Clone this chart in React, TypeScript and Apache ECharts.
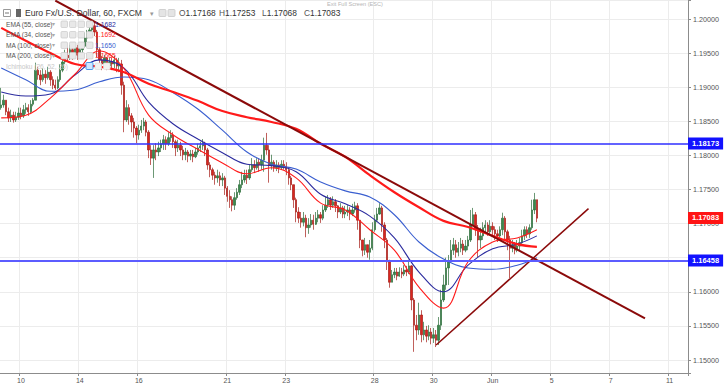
import React, { useEffect, useRef } from "react";
import * as echarts from "echarts";

// ---- Candles: 2-hour slots (open = previous close) ----
const firstOpen = 1.187;
const closes = [
  1.1874, 1.1881, 1.1864, 1.1855, 1.1859, 1.1852, 1.1856, 1.1862, 1.1858, 1.1867,
  1.187, 1.1864, 1.1875, 1.1881, 1.1925, 1.1918, 1.1911, 1.1919, 1.1914, 1.1922,
  1.1911, 1.1903, 1.1899, 1.1911, 1.1925, 1.1937, 1.1947, 1.1943, 1.1955, 1.1949,
  1.1958, 1.1947, 1.1955, 1.196, 1.1972, 1.1978, 1.1984, 1.199, 1.1981, 1.1955,
  1.194, 1.1934, 1.1943, 1.1931, 1.1937, 1.1934, 1.194, 1.1931, 1.1934, 1.1903,
  1.1852, 1.187, 1.1858, 1.1849, 1.184, 1.183, 1.1837, 1.1843, 1.1849, 1.1834,
  1.1808, 1.1796, 1.1808, 1.1805, 1.1811, 1.1817, 1.1823, 1.1817, 1.1826, 1.183,
  1.182, 1.1811, 1.1815, 1.1808, 1.1801, 1.1805, 1.1799, 1.1802, 1.1798, 1.1805,
  1.1811, 1.1814, 1.1818, 1.1808, 1.1786, 1.1779, 1.1771, 1.1767, 1.177, 1.1764,
  1.1767, 1.1752, 1.174, 1.1735, 1.1727, 1.1738, 1.1746, 1.1757, 1.1764, 1.1771,
  1.1767, 1.1779, 1.1786, 1.1782, 1.179, 1.1786, 1.1793, 1.1815, 1.1808, 1.1786,
  1.179, 1.1782, 1.1786, 1.1782, 1.1787, 1.1784, 1.1779, 1.1767, 1.1757, 1.1735,
  1.1717, 1.1708, 1.1702, 1.1708, 1.1694, 1.1698, 1.1705, 1.1699, 1.1708, 1.1713,
  1.1708, 1.172, 1.1727, 1.1735, 1.1727, 1.1732, 1.1726, 1.1717, 1.1723, 1.1714,
  1.1717, 1.172, 1.1714, 1.172, 1.1726, 1.1705, 1.1676, 1.1661, 1.1669, 1.1658,
  1.1664, 1.1691, 1.1705, 1.1714, 1.1723, 1.1698, 1.1676, 1.1644, 1.1614, 1.1625,
  1.1629, 1.1623, 1.1629, 1.1626, 1.1632, 1.1629, 1.1638, 1.1588, 1.1551, 1.1544,
  1.1566, 1.1537, 1.1544, 1.1535, 1.1541, 1.1532, 1.1537, 1.1529, 1.1551, 1.1588,
  1.161, 1.1635, 1.1644, 1.1661, 1.1669, 1.1658, 1.1664, 1.167, 1.1661, 1.1667,
  1.1676, 1.1698, 1.1713, 1.1691, 1.1676, 1.1682, 1.1694, 1.1698, 1.1688, 1.1696,
  1.1691, 1.1685, 1.1682, 1.1691, 1.1708, 1.1688, 1.1676, 1.1664, 1.1669, 1.1661,
  1.1667, 1.1672, 1.1682, 1.1691, 1.1685, 1.1694, 1.172, 1.1735, 1.1708,
];
const highs = [
  1.1899, 1.1889, 1.1881, 1.187, 1.1867, 1.1864, 1.1864, 1.187, 1.187, 1.1874,
  1.1877, 1.1875, 1.1881, 1.1884, 1.1936, 1.193, 1.1925, 1.1928, 1.1925, 1.193,
  1.1925, 1.1916, 1.1911, 1.1916, 1.1934, 1.1946, 1.1955, 1.1958, 1.1962, 1.1959,
  1.1963, 1.1962, 1.1962, 1.1966, 1.198, 1.1984, 1.1993, 1.1997, 1.1996, 1.1984,
  1.1958, 1.1946, 1.1947, 1.1944, 1.1943, 1.1944, 1.1946, 1.1943, 1.1943, 1.194,
  1.1908, 1.1881, 1.1875, 1.1862, 1.1855, 1.1843, 1.1845, 1.1852, 1.1855, 1.1852,
  1.1837, 1.1815, 1.1815, 1.1818, 1.182, 1.1823, 1.183, 1.1828, 1.1834, 1.1837,
  1.1834, 1.1823, 1.1823, 1.182, 1.1814, 1.1811, 1.1808, 1.1808, 1.1808, 1.1811,
  1.1817, 1.182, 1.1824, 1.182, 1.1811, 1.179, 1.1782, 1.1776, 1.1779, 1.1776,
  1.1774, 1.177, 1.1755, 1.1749, 1.174, 1.1746, 1.1752, 1.1764, 1.1776, 1.1779,
  1.1779, 1.1786, 1.1796, 1.1793, 1.1796, 1.1796, 1.1801, 1.1826, 1.1833, 1.1815,
  1.1801, 1.1793, 1.1793, 1.179, 1.1793, 1.1793, 1.179, 1.1782, 1.177, 1.1757,
  1.1738, 1.1724, 1.1717, 1.1717, 1.1713, 1.1708, 1.1714, 1.1713, 1.1717, 1.172,
  1.1717, 1.1727, 1.1739, 1.1742, 1.1739, 1.174, 1.1736, 1.1727, 1.173, 1.1726,
  1.1726, 1.1727, 1.1724, 1.1729, 1.1732, 1.173, 1.1702, 1.1676, 1.1679, 1.1669,
  1.1676, 1.1702, 1.1713, 1.1723, 1.173, 1.1726, 1.1702, 1.1679, 1.1647, 1.1632,
  1.1635, 1.1635, 1.1636, 1.1635, 1.1639, 1.1638, 1.1647, 1.1639, 1.1591, 1.1566,
  1.1584, 1.1573, 1.1556, 1.155, 1.1551, 1.1547, 1.1547, 1.1544, 1.1563, 1.1603,
  1.1625, 1.165, 1.1654, 1.1676, 1.1679, 1.1676, 1.1673, 1.1679, 1.1676, 1.1676,
  1.1682, 1.172, 1.1723, 1.1717, 1.1698, 1.1694, 1.1702, 1.1705, 1.1702, 1.1705,
  1.1702, 1.1696, 1.1691, 1.1696, 1.1716, 1.1711, 1.1691, 1.1682, 1.1676, 1.1673,
  1.1676, 1.1679, 1.1691, 1.1696, 1.1696, 1.1699, 1.1735, 1.1745, 1.1735,
];
const lows = [
  1.1867, 1.187, 1.1859, 1.1849, 1.1849, 1.1848, 1.1849, 1.1852, 1.1853, 1.1855,
  1.1861, 1.1858, 1.1862, 1.1872, 1.1881, 1.1911, 1.1903, 1.1908, 1.1905, 1.1911,
  1.1902, 1.1897, 1.1896, 1.1897, 1.1908, 1.1922, 1.1934, 1.1937, 1.194, 1.194,
  1.1944, 1.194, 1.1943, 1.1947, 1.1958, 1.1966, 1.1974, 1.198, 1.1975, 1.1944,
  1.1931, 1.1925, 1.1931, 1.1925, 1.1928, 1.1925, 1.1928, 1.1922, 1.1922, 1.1889,
  1.1834, 1.1849, 1.1845, 1.1834, 1.1826, 1.1818, 1.1823, 1.1833, 1.1837, 1.1828,
  1.1796, 1.1786, 1.1767, 1.1793, 1.1799, 1.1805, 1.1808, 1.1808, 1.1814, 1.182,
  1.1811, 1.1799, 1.1805, 1.1799, 1.1793, 1.1793, 1.179, 1.1793, 1.179, 1.1796,
  1.1801, 1.1805, 1.1808, 1.1799, 1.1779, 1.1768, 1.1764, 1.1757, 1.176, 1.1755,
  1.1755, 1.1742, 1.1732, 1.1723, 1.1718, 1.172, 1.1735, 1.1742, 1.1752, 1.176,
  1.1758, 1.1764, 1.1776, 1.1774, 1.1779, 1.1776, 1.1779, 1.1776, 1.1801, 1.176,
  1.1779, 1.1776, 1.1777, 1.1774, 1.1779, 1.1779, 1.1771, 1.1757, 1.1749, 1.1723,
  1.1702, 1.1701, 1.1694, 1.1696, 1.168, 1.1685, 1.1694, 1.1691, 1.1698, 1.1702,
  1.1701, 1.1705, 1.1717, 1.1723, 1.172, 1.1723, 1.1717, 1.1708, 1.1714, 1.1708,
  1.1708, 1.1711, 1.1705, 1.1711, 1.1716, 1.1691, 1.1664, 1.1652, 1.1654, 1.165,
  1.1647, 1.1661, 1.1688, 1.1702, 1.1713, 1.1688, 1.1664, 1.1632, 1.1606, 1.1614,
  1.162, 1.1617, 1.1622, 1.162, 1.1623, 1.1623, 1.1626, 1.1573, 1.1512, 1.1529,
  1.1537, 1.1526, 1.1529, 1.1526, 1.1529, 1.1523, 1.1525, 1.1519, 1.1522, 1.1544,
  1.1585, 1.1603, 1.161, 1.1644, 1.1654, 1.165, 1.1652, 1.1658, 1.1654, 1.1658,
  1.1661, 1.1673, 1.1696, 1.1682, 1.1651, 1.1664, 1.1676, 1.1685, 1.1682, 1.1685,
  1.1682, 1.1676, 1.1673, 1.1679, 1.1683, 1.1676, 1.1661, 1.162, 1.1658, 1.1655,
  1.1658, 1.1661, 1.1667, 1.1676, 1.1679, 1.1679, 1.1691, 1.1714, 1.1702,
];

// ---- Moving averages, read at every 10th slot ----
const maSlots = [0, 10, 20, 30, 40, 50, 60, 70, 80, 90, 100, 110, 120, 130, 140, 150, 160, 170, 180, 190, 200, 210, 218];
const ema34 = [1.1855, 1.1859, 1.1884, 1.1919, 1.1953, 1.1927, 1.1859, 1.183, 1.1809, 1.1789, 1.1773, 1.1782, 1.1767, 1.173, 1.172, 1.1691, 1.1661, 1.1607, 1.1576, 1.1644, 1.1673, 1.1679, 1.1691];
const ema55 = [1.1893, 1.1887, 1.189, 1.1918, 1.194, 1.1928, 1.1878, 1.1846, 1.1824, 1.1804, 1.1787, 1.1785, 1.1776, 1.1743, 1.1729, 1.1711, 1.1679, 1.1629, 1.16, 1.1639, 1.1663, 1.167, 1.1682];
const ma100 = [1.1928, 1.1911, 1.1894, 1.1896, 1.1908, 1.1915, 1.1911, 1.1892, 1.1868, 1.1837, 1.1805, 1.1787, 1.178, 1.1761, 1.1748, 1.1739, 1.1713, 1.1673, 1.1648, 1.1635, 1.1633, 1.1639, 1.165];
const ma200 = [1.1987, 1.1968, 1.195, 1.1934, 1.193, 1.1922, 1.1905, 1.1893, 1.188, 1.1865, 1.1856, 1.1849, 1.1839, 1.1817, 1.1798, 1.1771, 1.1746, 1.1724, 1.1704, 1.1695, 1.1682, 1.167, 1.1666];

// ---- Drawings ----
const trendDownSlots = [22, 262];
const trendDownPrices = [1.2027, 1.1561];
const trendUpSlots = [177, 239];
const trendUpPrices = [1.1522, 1.1722];
const levelHigh = 1.18173;
const levelLow = 1.16458;
const lastPrice = 1.17083;

// ---- Axes ----
const totalSlots = 280;
const slotsPerDay = 12;
const firstDaySlot = 8;
const dayLabels = ["10", "14", "16", "21", "23", "28", "30", "Jun", "5", "7", "11"];
const dayPositions = [0, 2, 4, 7, 9, 12, 14, 16, 18, 20, 22];
const yMin = 1.148094;
const yMax = 1.202786;
const yStep = 0.005;
const hiddenTick = 1.165; // fully covered by the 1.16458 tag in the reference

// ---- Header / legend texts ----
const symbolTitle = "Euro Fx/U.S. Dollar, 60, FXCM";
const ohlcNames = ["O", "H", "L", "C"];
const ohlcValues = ["1.17168", "1.17253", "1.17068", "1.17083"];
const studyNames = ["EMA (55, close)", "EMA (34, close)", "MA (100, close)", "MA (200, close)"];
const studyValues = ["1.1682", "1.1692", "1.1650", "1.1665"];
const studyColors = ["#2b2b9e", "#ff1a1a", "#3a5fd0", "#ff1a1a"];

const FONT = "'Liberation Sans', Arial, sans-serif";

export default function App() {
  const ref = useRef<HTMLDivElement>(null);
  useEffect(() => {
    if (!ref.current) return;
    const chart = echarts.init(ref.current, undefined, { renderer: "svg" });

    const candles = closes.map((c, i) => {
      const o = i === 0 ? firstOpen : closes[i - 1];
      const h = Math.max(highs[i], o, c);
      const l = Math.min(lows[i], o, c);
      return [o, c, l, h];
    });
    const cats = Array.from({ length: totalSlots }, (_, i) => String(i));
    const labelSlots = dayPositions.map((d) => firstDaySlot + d * slotsPerDay);
    const labelAt: Record<number, string> = {};
    labelSlots.forEach((s, i) => (labelAt[s] = dayLabels[i]));
    const isLabelSlot = (i: number) => labelAt[i] !== undefined;
    const maLine = (vals: number[]) => maSlots.map((s, i) => [s, vals[i]]);
    const isStep = (v: number) => Math.abs(v / yStep - Math.round(v / yStep)) < 1e-6;

    const tag = (bg: string, v: number) => ({
      show: true,
      position: "end",
      distance: 0,
      formatter: () => v.toFixed(5),
      backgroundColor: bg,
      color: "#fff",
      fontFamily: FONT,
      fontSize: 7.5,
      fontWeight: "bold",
      padding: [2, 4, 2, 4],
    });
    const levelSeries = (value: number, color: string, width: number, tagColor: string) => ({
      type: "line",
      data: [],
      z: 4,
      markLine: {
        symbol: "none",
        silent: true,
        animation: false,
        precision: 5,
        lineStyle: { color, width, type: "solid", opacity: 1 },
        label: tag(tagColor, value),
        data: [{ yAxis: value }],
      },
    });

    const graphics: any[] = [];
    // header
    graphics.push({ type: "rect", shape: { x: 3.5, y: 9.5, width: 7, height: 7 }, style: { fill: "#fff", stroke: "#999", lineWidth: 1 }, z: 100 });
    graphics.push({ type: "line", shape: { x1: 5, y1: 13, x2: 9, y2: 13 }, style: { stroke: "#777", lineWidth: 1 }, z: 100 });
    graphics.push({ type: "rect", shape: { x: 16, y: 9, width: 5, height: 8 }, style: { fill: "#666" }, z: 100 });
    graphics.push({ type: "text", x: 25, y: 13, style: { text: symbolTitle, fill: "#333", font: `8.6px ${FONT}`, verticalAlign: "middle" }, z: 100 });
    graphics.push({ type: "text", x: 150, y: 13, style: { text: "▾", fill: "#999", font: `7px ${FONT}`, verticalAlign: "middle" }, z: 100 });
    [159, 168].forEach((x) => graphics.push({ type: "rect", shape: { x, y: 9.5, width: 7, height: 7, r: 1 }, style: { fill: "#e4e4e4", stroke: "#c8c8c8", lineWidth: 0.8 }, z: 100 }));
    const ohlcX = [179, 219, 262, 304];
    ohlcNames.forEach((n, i) =>
      graphics.push({
        type: "text",
        x: ohlcX[i],
        y: 13,
        style: {
          text: `{n|${n}}{v|${ohlcValues[i]}}`,
          rich: { n: { fill: "#555", font: `8.4px ${FONT}` }, v: { fill: "#333", font: `8.4px ${FONT}` } },
          verticalAlign: "middle",
        },
        z: 100,
      })
    );
    graphics.push({ type: "text", x: 327, y: 4, style: { text: "Exit Full Screen (ESC)", fill: "#b5b5b5", font: `5.6px ${FONT}`, verticalAlign: "middle" }, z: 100 });
    // study rows
    const rowY = [24, 34.5, 45, 55.5];
    studyNames.forEach((name, i) => {
      const y = rowY[i];
      graphics.push({ type: "text", x: 6, y, style: { text: name, fill: "#555", font: `6.6px ${FONT}`, verticalAlign: "middle" }, z: 100 });
      graphics.push({ type: "text", x: 52, y, style: { text: "▾", fill: "#aaa", font: `6px ${FONT}`, verticalAlign: "middle" }, z: 100 });
      [61, 69.5, 78, 86.5].forEach((x) => graphics.push({ type: "rect", shape: { x, y: y - 3, width: 6.5, height: 6.5, r: 1 }, style: { fill: "#e8e8e8", stroke: "#c8c8c8", lineWidth: 0.7 }, z: 100 }));
      graphics.push({ type: "text", x: 95, y, style: { text: studyValues[i], fill: studyColors[i], font: `6.8px ${FONT}`, verticalAlign: "middle" }, z: 100 });
    });
    graphics.push({ type: "text", x: 6, y: 66, style: { text: "Ichimoku (26, 52, 26)", fill: "#c8c8c8", font: `6.6px ${FONT}`, verticalAlign: "middle" }, z: 100 });
    graphics.push({ type: "rect", shape: { x: 86, y: 62.5, width: 7, height: 7, r: 1 }, style: { fill: "#cfe6ff", stroke: "#3a8ee6", lineWidth: 0.9 }, z: 100 });
    [95, 103.5].forEach((x) => graphics.push({ type: "rect", shape: { x, y: 63, width: 6.5, height: 6.5, r: 1 }, style: { fill: "#f1f1f1", stroke: "#dcdcdc", lineWidth: 0.7 }, z: 100 }));

    chart.setOption({
      animation: false,
      backgroundColor: "#fff",
      grid: { left: 0, right: 38, top: 0, bottom: 14, containLabel: false },
      xAxis: {
        type: "category",
        data: cats,
        boundaryGap: true,
        axisLine: { lineStyle: { color: "#8c8c8c", width: 1 } },
        axisTick: { show: true, interval: (i: number) => isLabelSlot(i), length: 3, lineStyle: { color: "#8c8c8c" } },
        axisLabel: {
          interval: (i: number) => isLabelSlot(i),
          formatter: (_v: string, i: number) => labelAt[i] ?? "",
          color: "#555",
          fontFamily: FONT,
          fontSize: 7,
          margin: 4,
        },
        splitLine: { show: true, interval: (i: number) => isLabelSlot(i), lineStyle: { color: "#ececec", width: 1 } },
      },
      yAxis: {
        type: "value",
        position: "right",
        min: yMin,
        max: yMax,
        splitNumber: 11,
        minInterval: yStep,
        maxInterval: yStep,
        scale: true,
        axisLine: { show: true, lineStyle: { color: "#8c8c8c", width: 1 } },
        axisTick: { show: true, length: 3, lineStyle: { color: "#8c8c8c" } },
        axisLabel: {
          formatter: (v: number) => (isStep(v) && Math.abs(v - hiddenTick) > 1e-6 ? v.toFixed(5) : ""),
          color: "#555",
          fontFamily: FONT,
          fontSize: 7.2,
          margin: 5,
        },
        splitLine: { show: true, lineStyle: { color: "#ececec", width: 1 } },
      },
      series: [
        {
          type: "candlestick",
          data: candles,
          barWidth: 1.9,
          itemStyle: {
            color: "#3b8a4d",
            color0: "#d9261f",
            borderColor: "#2c6b3a",
            borderColor0: "#a51b16",
            borderWidth: 0.7,
          },
          z: 2,
        },
        { type: "line", data: maLine(ma100), smooth: 0.4, symbol: "none", lineStyle: { color: "#3a5fd0", width: 1.1 }, z: 3 },
        { type: "line", data: maLine(ema55), smooth: 0.4, symbol: "none", lineStyle: { color: "#2b2b9e", width: 1.1 }, z: 3 },
        { type: "line", data: maLine(ema34), smooth: 0.4, symbol: "none", lineStyle: { color: "#ff1a1a", width: 1.1 }, z: 3 },
        { type: "line", data: maLine(ma200), smooth: 0.4, symbol: "none", lineStyle: { color: "#ff1a1a", width: 2.2 }, z: 3 },
        {
          type: "line",
          data: trendDownSlots.map((s, i) => [s, trendDownPrices[i]]),
          symbol: "none",
          lineStyle: { color: "#8b0a0a", width: 2 },
          z: 4,
        },
        {
          type: "line",
          data: trendUpSlots.map((s, i) => [s, trendUpPrices[i]]),
          symbol: "none",
          lineStyle: { color: "#8b0a0a", width: 1.5 },
          z: 4,
        },
        levelSeries(levelHigh, "#2f2fff", 1.5, "#1212ff"),
        levelSeries(levelLow, "#5c5cff", 2, "#1212ff"),
        levelSeries(lastPrice, "rgba(255,0,0,0)", 0.1, "#ff1414"),
      ],
      graphic: graphics,
    });
    return () => chart.dispose();
  }, []);
  return <div ref={ref} style={{ position: "fixed", left: 0, top: 0, width: 726, height: 387 }} />;
}
